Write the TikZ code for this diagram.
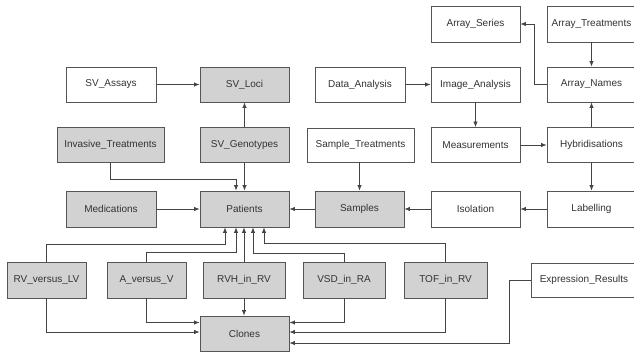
\documentclass[tikz,border=0pt]{standalone}
\usepackage{fontspec}
\setmainfont{Liberation Sans}
\usetikzlibrary{arrows.meta}
\definecolor{boxline}{HTML}{555555}
\definecolor{boxfill}{HTML}{D2D2D2}
\definecolor{conn}{HTML}{444444}
\definecolor{txt}{HTML}{333333}
\begin{document}
\begin{tikzpicture}[x=1pt,y=-1pt,
  basebox/.style={draw=boxline, line width=0.9pt, rectangle, minimum height=35pt, inner sep=1pt,
    text=txt, font=\fontsize{10}{12}\selectfont},
  wbox/.style={basebox, fill=white},
  gbox/.style={basebox, fill=boxfill},
  arr/.style={draw=conn, line width=0.75pt, -{Latex[length=5.5pt,width=4.5pt]}}
]
\useasboundingbox (0,0) rectangle (634,353);
% top area
\node[wbox, minimum width=90pt] (SVAssays) at (111,84.5) {SV\_Assays};
\node[gbox, minimum width=89pt] (SVLoci) at (244.5,84.5) {SV\_Loci};
\node[gbox, minimum width=107pt] (InvTreat) at (110.5,145) {Invasive\_Treatments};
\node[gbox, minimum width=89pt] (SVGeno) at (244.5,145) {SV\_Genotypes};
\node[gbox, minimum width=90pt, minimum height=36pt] (Medications) at (111,209) {Medications};
\node[gbox, minimum width=89pt, minimum height=36pt] (Patients) at (244.5,209) {Patients};
% right block
\node[wbox, minimum width=89pt, minimum height=36pt] (ArraySeries) at (475.5,24) {Array\_Series};
\node[wbox, minimum width=89pt, minimum height=36pt] (ArrayTreat) at (591.5,24) {Array\_Treatments};
\node[wbox, minimum width=90pt] (DataAn) at (360,84.5) {Data\_Analysis};
\node[wbox, minimum width=89pt] (ImageAn) at (475.5,84.5) {Image\_Analysis};
\node[wbox, minimum width=89pt] (ArrayNames) at (591.5,84.5) {Array\_Names};
\node[wbox, minimum width=107pt, minimum height=34pt] (SampleTreat) at (360.5,145) {Sample\_Treatments};
\node[wbox, minimum width=89pt] (Measure) at (475.5,145) {Measurements};
\node[wbox, minimum width=89pt] (Hybrid) at (591.5,145) {Hybridisations};
\node[gbox, minimum width=89pt, minimum height=36pt] (Samples) at (359.5,209) {Samples};
\node[wbox, minimum width=89pt, minimum height=36pt] (Isolation) at (475.5,209) {Isolation};
\node[wbox, minimum width=89pt, minimum height=36pt] (Labelling) at (591.5,209) {Labelling};
% lower row
\node[gbox, minimum width=79pt, minimum height=36pt] (RVLV) at (46.5,280) {RV\_versus\_LV};
\node[gbox, minimum width=79pt, minimum height=36pt] (AV) at (146.5,280) {A\_versus\_V};
\node[gbox, minimum width=82pt, minimum height=36pt] (RVH) at (244,280) {RVH\_in\_RV};
\node[gbox, minimum width=82pt, minimum height=36pt] (VSD) at (344,280) {VSD\_in\_RA};
\node[gbox, minimum width=83pt, minimum height=36pt] (TOF) at (445.5,280) {TOF\_in\_RV};
\node[wbox, minimum width=106pt, minimum height=34pt] (ExprRes) at (584,280) {Expression\_Results};
\node[gbox, minimum width=89pt, minimum height=35pt] (Clones) at (244.5,333.5) {Clones};
% connectors
\draw[arr] (SVAssays.east) -- (SVLoci.west);
\draw[arr] (SVGeno.north) -- (SVLoci.south);
\draw[arr] (InvTreat.south) -- ++(0,16) -| ([xshift=-8.5pt]Patients.north);
\draw[arr] (SVGeno.south) -- (Patients.north);
\draw[arr] (Medications.east) -- (Patients.west);
\draw[arr] (Samples.west) -- (Patients.east);
\draw[arr] (SampleTreat.south -| Samples.north) -- (Samples.north);
\draw[arr] (Isolation.west) -- (Samples.east);
\draw[arr] (Labelling.west) -- (Isolation.east);
\draw[arr] (Hybrid.south) -- (Labelling.north);
\draw[arr] (Measure.east) -- (Hybrid.west);
\draw[arr] (ImageAn.south) -- (Measure.north);
\draw[arr] (DataAn.east) -- (ImageAn.west);
\draw[arr] (Hybrid.north) -- (ArrayNames.south);
\draw[arr] (ArrayTreat.south) -- (ArrayNames.north);
\draw[arr] (ArrayNames.west) -- ++(-12,0) |- (ArraySeries.east);
% to Patients
\draw[arr] (RVLV.north) -- ++(0,-17) -| ([xshift=-19.5pt]Patients.south);
\draw[arr] (AV.north) -- ++(0,-9) -| ([xshift=-8.5pt]Patients.south);
\draw[arr] (RVH.north) -- (RVH.north |- Patients.south);
\draw[arr] (VSD.north) -- ++(0,-8) -| ([xshift=8.5pt]Patients.south);
\draw[arr] (TOF.north) -- ++(0,-18) -| ([xshift=19.5pt]Patients.south);
% to Clones
\draw[arr] (RVLV.south) |- ([yshift=1.5pt]Clones.west);
\draw[arr] (AV.south) |- ([yshift=11pt]Clones.west);
\draw[arr] (RVH.south) -- (RVH.south |- Clones.north);
\draw[arr] (VSD.south) |- ([yshift=11pt]Clones.east);
\draw[arr] (TOF.south) |- ([yshift=1.5pt]Clones.east);
\draw[arr] (ExprRes.west) -- ++(-21,0) |- ([yshift=-9.5pt]Clones.east);
\end{tikzpicture}
\end{document}
